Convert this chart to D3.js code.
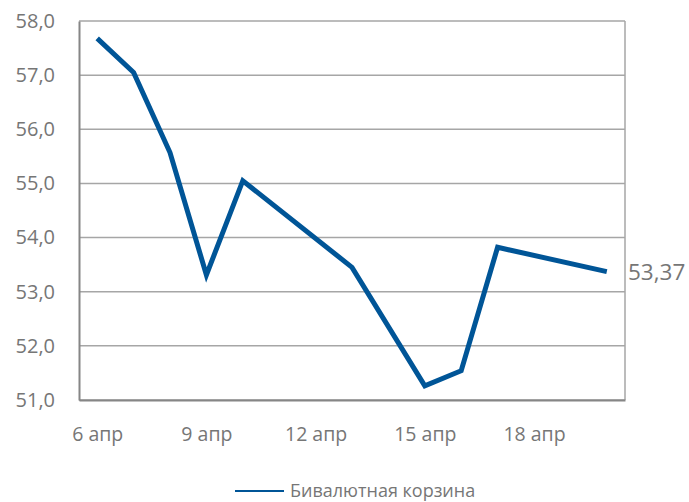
<!DOCTYPE html>
<html>
<head>
<meta charset="utf-8">
<script src="https://cdn.jsdelivr.net/npm/d3@7"></script>
<style>
  html, body { margin: 0; padding: 0; background: #fff; }
  svg { display: block; font-family: "Open Sans", "Noto Sans", sans-serif; }
</style>
</head>
<body>
<svg id="chart" width="689" height="502"></svg>
<script>
// Бивалютная корзина, апрель
const dates = ["2015-04-06", "2015-04-07", "2015-04-08", "2015-04-09", "2015-04-10",
               "2015-04-13", "2015-04-15", "2015-04-16", "2015-04-17", "2015-04-20"];
const basket = [57.68, 57.05, 55.57, 53.31, 55.05, 53.45, 51.26, 51.54, 53.82, 53.37];
const yTicks = [51, 52, 53, 54, 55, 56, 57, 58];
const xTickDates = ["2015-04-06", "2015-04-09", "2015-04-12", "2015-04-15", "2015-04-18"];
const seriesName = "Бивалютная корзина";
const lastLabel = "53,37";

const parse = d3.utcParse("%Y-%m-%d");
const points = dates.map((d, i) => ({ date: parse(d), value: basket[i] }));

const svg = d3.select("#chart");
const margin = { left: 79, right: 64, top: 21, bottom: 102 };
const W = 689, H = 502;

const dayMs = 864e5;
const x = d3.scaleUtc()
  .domain([new Date(parse(dates[0]) - dayMs / 2), new Date(+parse(dates[dates.length - 1]) + dayMs / 2)])
  .range([margin.left, W - margin.right]);
const y = d3.scaleLinear()
  .domain([51, 58])
  .range([H - margin.bottom, margin.top]);

const textColor = "#767676";
const gridColor = "#a6a6a6";

// horizontal gridlines
svg.append("g")
  .selectAll("line")
  .data(yTicks)
  .join("line")
  .attr("x1", margin.left).attr("x2", W - margin.right)
  .attr("y1", d => y(d)).attr("y2", d => y(d))
  .attr("stroke", gridColor).attr("stroke-width", 1.5);

// right border of the plot area
svg.append("line")
  .attr("x1", W - margin.right).attr("x2", W - margin.right)
  .attr("y1", margin.top).attr("y2", H - margin.bottom)
  .attr("stroke", gridColor).attr("stroke-width", 1.5);

// y axis
const yAxis = svg.append("g")
  .attr("transform", `translate(${margin.left},0)`)
  .call(d3.axisLeft(y).tickValues(yTicks).tickSize(0).tickPadding(24)
    .tickFormat(d => d3.format(".1f")(d).replace(".", ",")));
yAxis.select(".domain").attr("stroke", "#868686").attr("stroke-width", 2);
yAxis.selectAll("text")
  .attr("fill", textColor)
  .style("font-size", "20px")
  .style("font-family", "'Open Sans', sans-serif");

// x axis
const ruMonths = ["янв", "фев", "мар", "апр", "май", "июн", "июл", "авг", "сен", "окт", "ноя", "дек"];
const xAxis = svg.append("g")
  .attr("transform", `translate(0,${H - margin.bottom})`)
  .call(d3.axisBottom(x).tickValues(xTickDates.map(parse)).tickSize(0).tickPadding(27)
    .tickFormat(d => `${d.getUTCDate()} ${ruMonths[d.getUTCMonth()]}`));
xAxis.select(".domain").attr("stroke", "#868686").attr("stroke-width", 2);
xAxis.selectAll("text")
  .attr("fill", textColor)
  .style("font-size", "19.5px")
  .style("font-family", "'Open Sans', sans-serif");

// series line
const line = d3.line().x(d => x(d.date)).y(d => y(d.value));
svg.append("path")
  .datum(points)
  .attr("fill", "none")
  .attr("stroke", "#005597")
  .attr("stroke-width", 5)
  .attr("stroke-linejoin", "miter")
  .attr("d", line);

// value label at the last point
const last = points[points.length - 1];
svg.append("text")
  .attr("x", W - margin.right + 3)
  .attr("y", y(last.value))
  .attr("dy", "0.35em")
  .attr("fill", textColor)
  .style("font-size", "22.5px")
  .text(lastLabel);

// legend
const lg = svg.append("g").attr("transform", "translate(235,491)");
lg.append("line").attr("x1", 0).attr("x2", 49).attr("y1", 0).attr("y2", 0)
  .attr("stroke", "#005597").attr("stroke-width", 2);
lg.append("text").attr("x", 55).attr("y", 6)
  .attr("fill", textColor)
  .style("font-size", "18px")
  .text(seriesName);
</script>
</body>
</html>
